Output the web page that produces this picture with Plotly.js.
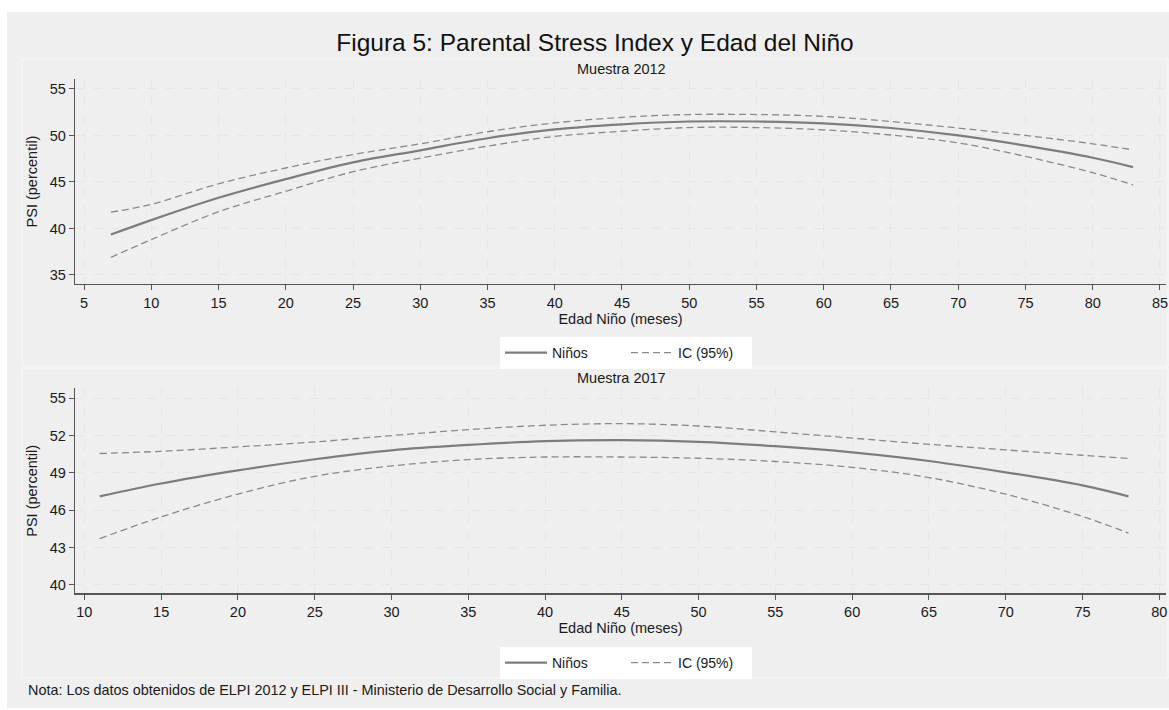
<!DOCTYPE html>
<html>
<head>
<meta charset="utf-8">
<script src="https://cdn.plot.ly/plotly-3.0.1.min.js"></script>
<style>
  html, body { margin: 0; padding: 0; background: #ffffff; }
  #chart { width: 1169px; height: 710px; }
</style>
</head>
<body>
<div id="chart"></div>
<script>
// Muestra 2012: fitted PSI percentile by child age (months) with 95% CI
const edad2012 = [7, 10, 15, 20, 25, 30, 35, 40, 45, 50, 55, 60, 65, 70, 75, 80, 83];
const ninos2012 = [39.35, 40.9, 43.3, 45.3, 47.1, 48.4, 49.7, 50.65, 51.2, 51.5, 51.5, 51.3, 50.8, 50.0, 48.9, 47.6, 46.6];
const icSup2012 = [41.75, 42.6, 44.8, 46.5, 47.95, 49.1, 50.4, 51.35, 51.95, 52.25, 52.25, 52.05, 51.5, 50.8, 50.0, 49.1, 48.45];
const icInf2012 = [36.9, 38.8, 41.8, 44.0, 46.1, 47.56, 48.85, 49.9, 50.45, 50.85, 50.85, 50.6, 50.05, 49.2, 47.75, 46.0, 44.7];

// Muestra 2017
const edad2017 = [11, 15, 20, 25, 30, 35, 40, 45, 50, 55, 60, 65, 70, 75, 78];
const ninos2017 = [47.12, 48.15, 49.2, 50.1, 50.82, 51.25, 51.55, 51.63, 51.5, 51.15, 50.65, 49.96, 49.05, 48.0, 47.12];
const icSup2017 = [50.56, 50.74, 51.09, 51.49, 52.0, 52.48, 52.83, 52.96, 52.77, 52.3, 51.8, 51.3, 50.85, 50.42, 50.16];
const icInf2017 = [43.72, 45.47, 47.3, 48.73, 49.56, 50.07, 50.28, 50.28, 50.18, 49.92, 49.45, 48.63, 47.29, 45.5, 44.17];

// Text
const tituloFigura = 'Figura 5: Parental Stress Index y Edad del Niño';
const panelTitulos = ['Muestra 2012', 'Muestra 2017'];
const tituloX = 'Edad Niño (meses)';
const tituloY = 'PSI (percentil)';
const serieNombres = ['Niños', 'IC (95%)'];
const nota = 'Nota: Los datos obtenidos de ELPI 2012 y ELPI III - Ministerio de Desarrollo Social y Familia.';

// Canvas geometry (px)
const W = 1169, H = 710;
const px = v => v / W;
const py = v => 1 - v / H;

const FONT = '"Liberation Sans", Arial, sans-serif';
const solid = { color: '#7d7d7d', width: 2.2, shape: 'spline', smoothing: 1 };
const dashed = { color: '#8a8a8a', width: 1.3, dash: '7px,4px', shape: 'spline', smoothing: 1 };

function panelTraces(x, mid, up, lo, xa, ya, leg) {
  return [
    { x: x, y: mid, type: 'scatter', mode: 'lines', name: serieNombres[0], line: solid,
      xaxis: xa, yaxis: ya, legend: leg, hoverinfo: 'x+y' },
    { x: x, y: up, type: 'scatter', mode: 'lines', name: serieNombres[1], line: dashed,
      xaxis: xa, yaxis: ya, legend: leg, legendgroup: 'ic' + leg, hoverinfo: 'x+y' },
    { x: x, y: lo, type: 'scatter', mode: 'lines', name: serieNombres[1], line: dashed,
      xaxis: xa, yaxis: ya, legend: leg, legendgroup: 'ic' + leg, showlegend: false, hoverinfo: 'x+y' }
  ];
}

const data = [].concat(
  panelTraces(edad2012, ninos2012, icSup2012, icInf2012, 'x', 'y', 'legend'),
  panelTraces(edad2017, ninos2017, icSup2017, icInf2017, 'x2', 'y2', 'legend2')
);

const tickFont = { family: FONT, size: 14.5, color: '#1a1a1a' };
const titleFont = { family: FONT, size: 14.5, color: '#1a1a1a' };

function xAxis(range, tick0, anchor) {
  return {
    domain: [px(75), px(1166)], anchor: anchor, range: range,
    tickmode: 'linear', tick0: tick0, dtick: 5,
    showline: true, linecolor: '#555555', linewidth: 1.3, mirror: false,
    ticks: 'outside', ticklen: 5, tickcolor: '#555555', tickwidth: 1,
    showgrid: true, gridcolor: '#e6e6e6', griddash: 'dash', gridwidth: 1,
    zeroline: false, tickfont: tickFont,
    title: { text: tituloX, font: titleFont, standoff: 3 }
  };
}
function yAxis(domain, range, tick0, dtick, anchor) {
  return {
    domain: domain, anchor: anchor, range: range,
    tickmode: 'linear', tick0: tick0, dtick: dtick,
    showline: true, linecolor: '#555555', linewidth: 1.3, mirror: false,
    ticks: 'outside', ticklen: 5, tickcolor: '#555555', tickwidth: 1,
    showgrid: true, gridcolor: '#e6e6e6', griddash: 'dash', gridwidth: 1,
    zeroline: false, tickfont: tickFont,
    title: { text: tituloY, font: titleFont, standoff: 8 }
  };
}

const legendBase = {
  orientation: 'h', bgcolor: '#ffffff', borderwidth: 0,
  font: { family: FONT, size: 14, color: '#1a1a1a' },
  xref: 'paper', yref: 'paper', xanchor: 'left', yanchor: 'top',
  entrywidth: 69, itemwidth: 42, tracegroupgap: 0
};

const layout = {
  width: W, height: H,
  margin: { l: 0, r: 0, t: 0, b: 0 },
  paper_bgcolor: '#ffffff',
  plot_bgcolor: '#ffffff',
  font: { family: FONT },
  title: {
    text: tituloFigura, font: { family: FONT, size: 24.5, color: '#111111' },
    x: px(595), xref: 'paper', xanchor: 'center',
    y: py(42), yref: 'paper', yanchor: 'middle'
  },
  xaxis: xAxis([4.33, 85.45], 5, 'y'),
  yaxis: yAxis([py(284), py(79)], [34.03, 56.07], 35, 5, 'x'),
  xaxis2: xAxis([9.39, 80.44], 10, 'y2'),
  yaxis2: yAxis([py(593.3), py(388.3)], [39.33, 55.8], 40, 3, 'x2'),
  legend: Object.assign({}, legendBase, { x: px(500), y: py(337) }),
  legend2: Object.assign({}, legendBase, { x: px(500), y: py(647) }),
  shapes: [
    // grey graph region
    { type: 'rect', xref: 'paper', yref: 'paper', x0: px(7), x1: 1, y0: py(708), y1: py(12),
      fillcolor: '#efefef', line: { width: 0 }, layer: 'below' },
    // panel outlines
    { type: 'rect', xref: 'paper', yref: 'paper', x0: px(22), x1: px(1168), y0: py(366), y1: py(59),
      fillcolor: 'rgba(0,0,0,0)', line: { width: 1, color: '#f9f9f9' }, layer: 'below' },
    { type: 'rect', xref: 'paper', yref: 'paper', x0: px(22), x1: px(1168), y0: py(678), y1: py(368),
      fillcolor: 'rgba(0,0,0,0)', line: { width: 1, color: '#f9f9f9' }, layer: 'below' }
  ],
  annotations: [
    { text: panelTitulos[0], xref: 'paper', yref: 'paper', x: px(621), y: py(69),
      xanchor: 'center', yanchor: 'middle', showarrow: false, font: titleFont },
    { text: panelTitulos[1], xref: 'paper', yref: 'paper', x: px(621), y: py(378),
      xanchor: 'center', yanchor: 'middle', showarrow: false, font: titleFont },
    { text: nota, xref: 'paper', yref: 'paper', x: px(26), y: py(690),
      xanchor: 'left', yanchor: 'middle', showarrow: false,
      font: { family: FONT, size: 14.4, color: '#1a1a1a' } }
  ],
  showlegend: true
};

Plotly.newPlot('chart', data, layout, { staticPlot: true, displayModeBar: false });
</script>
</body>
</html>
